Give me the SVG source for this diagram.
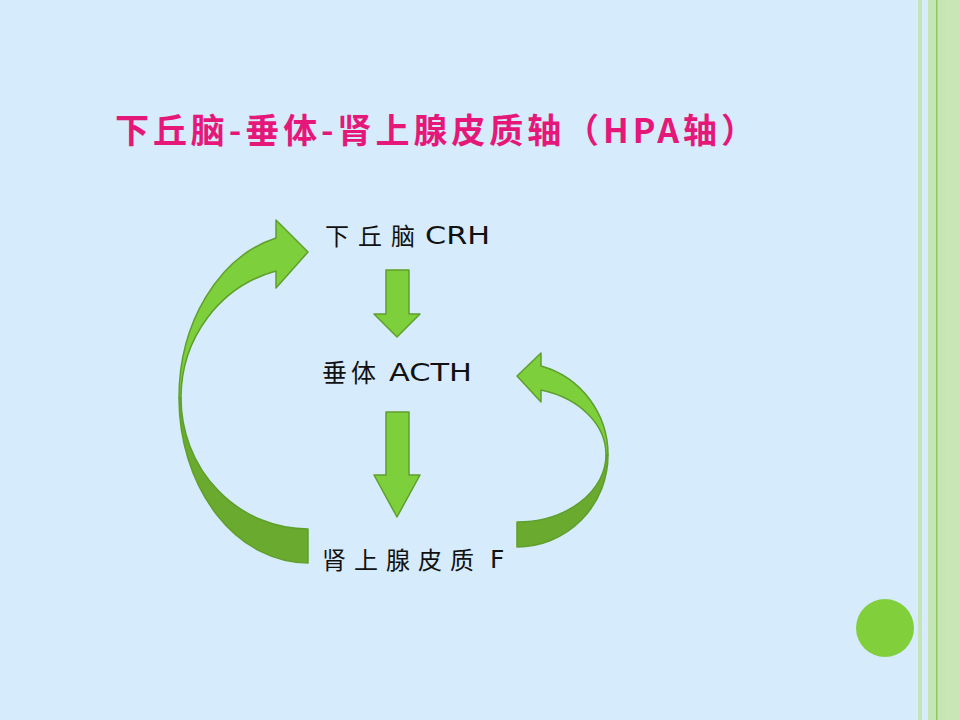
<svg xmlns="http://www.w3.org/2000/svg" width="960" height="720" viewBox="0 0 960 720">
<style>
.cjk{font-family:"Noto Sans CJK SC","Noto Sans",sans-serif;fill:#111;}
.lat{font-family:"DejaVu Sans","Liberation Sans",sans-serif;fill:#111;}
.title{font-family:"Noto Sans CJK SC","Noto Sans",sans-serif;font-weight:bold;fill:#e5187a;}
.light{fill:#7ecf3c;stroke:#5f9f2c;stroke-width:1.5;stroke-linejoin:round;}
.dark{fill:#6aaa2f;stroke:#5f9f2c;stroke-width:1.5;stroke-linejoin:round;}
</style>
<rect x="0" y="0" width="960" height="720" fill="#d6ebfb"/>
<g id="border">
<rect x="918" y="0" width="4" height="720" fill="#c5e5b6"/>
<rect x="928" y="0" width="32" height="720" fill="#c5e5b5"/>
<rect x="945" y="0" width="15" height="720" fill="#c9e6b6"/>
<rect x="936" y="0" width="1.5" height="720" fill="#8cc763"/>
</g>
<circle cx="885" cy="628" r="29" fill="#82cf3c"/>
<text id="title" class="title" x="115" y="143" font-size="34" textLength="640" lengthAdjust="spacing">下丘脑-垂体-肾上腺皮质轴（HPA轴）</text>
<g id="node-hypothalamus">
<text class="cjk" x="325" y="245" font-size="24" letter-spacing="9">下丘脑</text>
<text class="lat" x="425" y="244" font-size="25" textLength="65" lengthAdjust="spacingAndGlyphs">CRH</text>
</g>
<g id="node-pituitary">
<text class="cjk" x="322" y="382" font-size="25" letter-spacing="4">垂体</text>
<text class="lat" x="389" y="381" font-size="25" textLength="83" lengthAdjust="spacingAndGlyphs">ACTH</text>
</g>
<g id="node-adrenal">
<text class="cjk" x="322" y="569" font-size="24" letter-spacing="8">肾上腺皮质</text>
<text class="lat" x="490" y="568" font-size="25">F</text>
</g>
<g id="connectors">
<path class="light" d="M386 270 L409 270 L409 314 L420 314 L397 337 L374 314 L386 314 Z"/>
<path class="light" d="M386 412 L409 412 L409 475 L420 475 L397 517 L374 475 L386 475 Z"/>
<path class="dark" d="M308 529 A127 131 0 0 1 181 398 L179 398 A129 165 0 0 0 308 563 Z"/>
<path class="light" d="M179 398 A129 165 0 0 1 276 238 L276 220 L308 252 L276 288 L276 271 A127 131 0 0 0 181 398 Z"/>
<path class="dark" d="M517 522 A89 67 0 0 0 606 455 L608 455 A91 92 0 0 1 517 547 Z"/>
<path class="light" d="M608 455 A91 92 0 0 0 541 366 L541 353 L517 376 L541 402 L541 390 A89 67 0 0 1 606 455 Z"/>
</g>
</svg>
